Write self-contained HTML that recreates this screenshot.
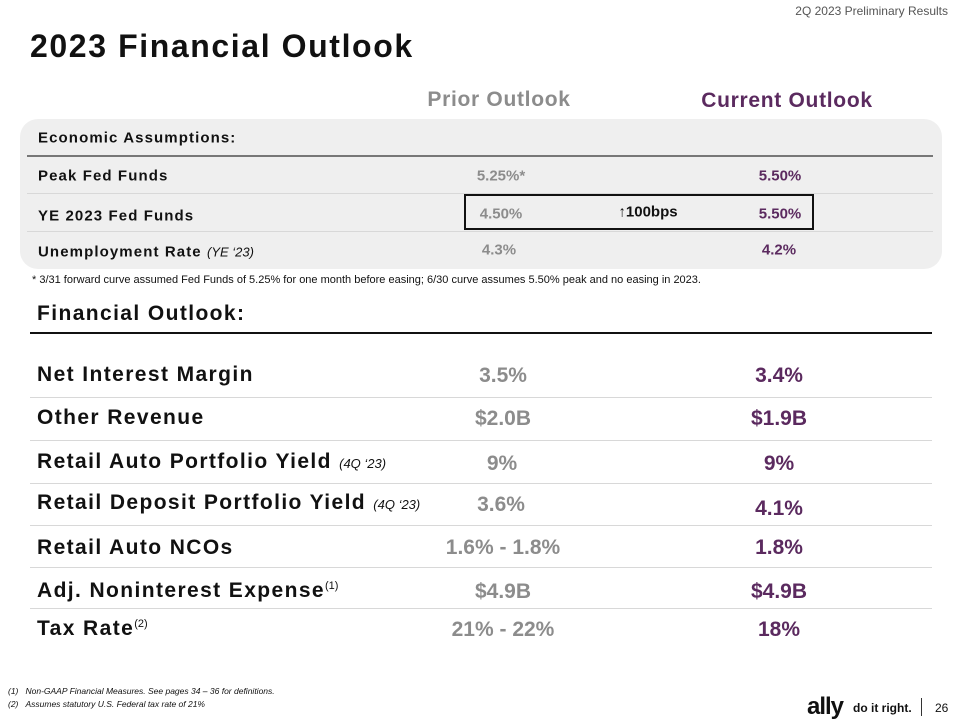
<!DOCTYPE html>
<html><head><meta charset="utf-8"><style>
body{margin:0;width:960px;height:720px;background:#fff;position:relative;overflow:hidden;font-family:"Liberation Sans",sans-serif}
.a{position:absolute;white-space:nowrap}
.c{transform:translate(-50%,-50%)}
.l{transform:translateY(-50%)}
.b{font-weight:bold}
.g{color:#8c8c8c}.p{color:#5b2a5f}
.ln{position:absolute;height:1px;background:#d8d8d8}
.fl{letter-spacing:1.4px}
.el{letter-spacing:1.1px}
</style></head><body>
<div class="a" style="right:12px;top:4px;font-size:12px;color:#555">2Q 2023 Preliminary Results</div>
<div class="a b" style="left:30px;top:28px;font-size:32px;color:#111;letter-spacing:1.6px">2023 Financial Outlook</div>
<div class="a b c g" style="left:499px;top:100px;font-size:21px;letter-spacing:0.7px">Prior Outlook</div>
<div class="a b c p" style="left:787px;top:101px;font-size:21px;letter-spacing:0.7px">Current Outlook</div>

<div class="a" style="left:20px;top:119px;width:922px;height:150px;background:#efefef;border-radius:18px"></div>
<div class="a b l el" style="left:38px;top:138px;font-size:15px;color:#111">Economic Assumptions:</div>
<div class="ln" style="left:27px;top:155px;width:906px;height:2px;background:#777"></div>
<div class="ln" style="left:27px;top:193px;width:906px"></div>
<div class="ln" style="left:27px;top:231px;width:906px"></div>

<div class="a b l el" style="left:38px;top:176px;font-size:15px;color:#111">Peak Fed Funds</div>
<div class="a b c g" style="left:501px;top:176px;font-size:15px">5.25%*</div>
<div class="a b c p" style="left:780px;top:176px;font-size:15px">5.50%</div>

<div class="a b l el" style="left:38px;top:216px;font-size:15px;color:#111">YE 2023 Fed Funds</div>
<div class="a" style="left:464px;top:194px;width:350px;height:36px;border:2px solid #111;box-sizing:border-box"></div>
<div class="a b c g" style="left:501px;top:214px;font-size:15px">4.50%</div>
<div class="a b c" style="left:648px;top:212px;font-size:15px;color:#111">↑100bps</div>
<div class="a b c p" style="left:780px;top:214px;font-size:15px">5.50%</div>

<div class="a b l el" style="left:38px;top:252px;font-size:15px;color:#111">Unemployment Rate <i style="font-weight:normal;font-size:13px;letter-spacing:0">(YE ‘23)</i></div>
<div class="a b c g" style="left:499px;top:250px;font-size:15px">4.3%</div>
<div class="a b c p" style="left:779px;top:250px;font-size:15px">4.2%</div>

<div class="a" style="left:32px;top:274px;font-size:11px;color:#111">* 3/31 forward curve assumed Fed Funds of 5.25% for one month before easing; 6/30 curve assumes 5.50% peak and no easing in 2023.</div>

<div class="a b l fl" style="left:37px;top:314px;font-size:21px;color:#111">Financial Outlook:</div>
<div class="ln" style="left:30px;top:332px;width:902px;height:2px;background:#111"></div>
<div class="ln" style="left:30px;top:397px;width:902px"></div>
<div class="ln" style="left:30px;top:440px;width:902px"></div>
<div class="ln" style="left:30px;top:483px;width:902px"></div>
<div class="ln" style="left:30px;top:525px;width:902px"></div>
<div class="ln" style="left:30px;top:567px;width:902px"></div>
<div class="ln" style="left:30px;top:608px;width:902px"></div>

<div class="a b l fl" style="left:37px;top:375px;font-size:21px;color:#111">Net Interest Margin</div>
<div class="a b c g" style="left:503px;top:376px;font-size:21px">3.5%</div>
<div class="a b c p" style="left:779px;top:376px;font-size:21px">3.4%</div>

<div class="a b l fl" style="left:37px;top:418px;font-size:21px;color:#111">Other Revenue</div>
<div class="a b c g" style="left:503px;top:419px;font-size:21px">$2.0B</div>
<div class="a b c p" style="left:779px;top:419px;font-size:21px">$1.9B</div>

<div class="a b l fl" style="left:37px;top:462px;font-size:21px;color:#111">Retail Auto Portfolio Yield <i style="font-weight:normal;font-size:13px;letter-spacing:0">(4Q ‘23)</i></div>
<div class="a b c g" style="left:502px;top:464px;font-size:21px">9%</div>
<div class="a b c p" style="left:779px;top:464px;font-size:21px">9%</div>

<div class="a b l fl" style="left:37px;top:503px;font-size:21px;color:#111">Retail Deposit Portfolio Yield <i style="font-weight:normal;font-size:13px;letter-spacing:0">(4Q ‘23)</i></div>
<div class="a b c g" style="left:501px;top:505px;font-size:21px">3.6%</div>
<div class="a b c p" style="left:779px;top:509px;font-size:21px">4.1%</div>

<div class="a b l fl" style="left:37px;top:548px;font-size:21px;color:#111">Retail Auto NCOs</div>
<div class="a b c g" style="left:503px;top:548px;font-size:21px">1.6% - 1.8%</div>
<div class="a b c p" style="left:779px;top:548px;font-size:21px">1.8%</div>

<div class="a b l fl" style="left:37px;top:591px;font-size:21px;color:#111">Adj. Noninterest Expense<sup style="font-weight:normal;font-size:11px;letter-spacing:0">(1)</sup></div>
<div class="a b c g" style="left:503px;top:592px;font-size:21px">$4.9B</div>
<div class="a b c p" style="left:779px;top:592px;font-size:21px">$4.9B</div>

<div class="a b l fl" style="left:37px;top:629px;font-size:21px;color:#111">Tax Rate<sup style="font-weight:normal;font-size:11px;letter-spacing:0">(2)</sup></div>
<div class="a b c g" style="left:503px;top:630px;font-size:21px">21% - 22%</div>
<div class="a b c p" style="left:779px;top:630px;font-size:21px">18%</div>

<div class="a" style="left:8px;top:685px;font-size:8.5px;font-style:italic;color:#111;line-height:13px">(1)&nbsp;&nbsp;&nbsp;Non-GAAP Financial Measures. See pages 34 – 36 for definitions.<br>(2)&nbsp;&nbsp;&nbsp;Assumes statutory U.S. Federal tax rate of 21%</div>
<div class="a b" style="left:807px;top:693px;font-size:24px;color:#111;letter-spacing:-1px">ally</div>
<div class="a b" style="left:853px;top:701px;font-size:12px;color:#111">do it right.</div>
<div class="a" style="left:921px;top:698px;width:1px;height:18px;background:#333"></div>
<div class="a" style="left:935px;top:701px;font-size:12px;color:#111">26</div>
</body></html>
